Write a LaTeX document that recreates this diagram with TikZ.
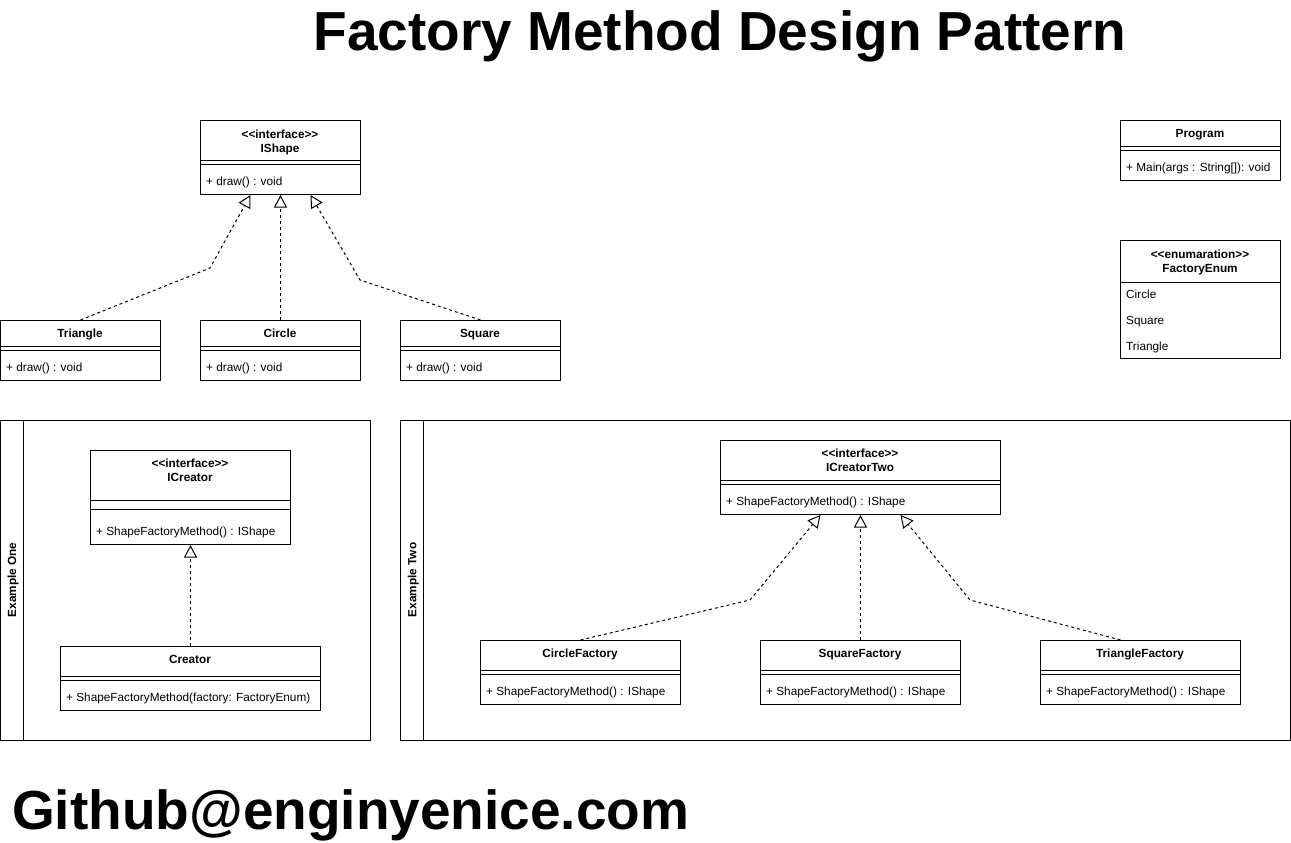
\documentclass[tikz,border=0pt]{standalone}
\usepackage{fontspec}
\setmainfont{Liberation Sans}
\usetikzlibrary{arrows.meta}
\begin{document}
\begin{tikzpicture}[x=1pt,y=-1pt,
  cls/.style={draw,line width=1pt,anchor=north west,inner sep=0pt,fill=white},
  frame/.style={draw,line width=1pt,anchor=north west,inner sep=0pt},
  sep/.style={line width=1pt},
  btxt/.style={inner sep=0pt,text height=8.5pt,text depth=0pt,font=\bfseries\fontsize{11.8}{13}\selectfont},
  mtxt/.style={inner sep=0pt,text height=8.5pt,text depth=0pt,anchor=west,font=\fontsize{11.8}{13}\selectfont},
  lane/.style={inner sep=0pt,text height=8.5pt,text depth=0pt,rotate=90,font=\bfseries\fontsize{11.8}{13}\selectfont},
  big/.style={inner sep=0pt,text height=40pt,text depth=0pt,font=\bfseries\fontsize{55}{60}\selectfont},
  real/.style={line width=1pt,dash pattern=on 3pt off 3pt,-{Triangle[open,length=12.5pt,width=13pt]}}]
\useasboundingbox (0,0) rectangle (1291,843);
\fill[white] (0,0) rectangle (1291,843);
% title
\node[big] (title) at (720,31) {Factory Method Design Pattern};
\node[big,anchor=west] (github) at (12,809) {Github@enginyenice.com};
% IShape
\node[cls,minimum width=160pt,minimum height=74pt] (ishape) at (200,120) {};
\draw[sep] (200,160) -- (360,160);
\draw[sep] (200,164) -- (360,164);
\node[btxt] (ishape-st) at (280,134) {<{}<interface>{}>};
\node[btxt] (ishape-n) at (280,148) {IShape};
\node[mtxt] (ishape-m) at (206,181) {+ draw() : void};
% Triangle, Circle, Square
\node[cls,minimum width=160pt,minimum height=60pt] (tri) at (0,320) {};
\node[cls,minimum width=160pt,minimum height=60pt] (cir) at (200,320) {};
\node[cls,minimum width=160pt,minimum height=60pt] (squ) at (400,320) {};
\foreach \xx in {0,200,400} {
  \draw[sep] (\xx,346) -- ({\xx+160},346);
  \draw[sep] (\xx,350) -- ({\xx+160},350);
}
\node[btxt] (tri-n) at (80,333) {Triangle};
\node[btxt] (cir-n) at (280,333) {Circle};
\node[btxt] (squ-n) at (480,333) {Square};
\node[mtxt] (tri-m) at (6,367) {+ draw() : void};
\node[mtxt] (cir-m) at (206,367) {+ draw() : void};
\node[mtxt] (squ-m) at (406,367) {+ draw() : void};
\draw[real] (tri.north) -- (210,268) -- ([xshift=-30pt]ishape.south);
\draw[real] (cir.north) -- (ishape.south);
\draw[real] (squ.north) -- (360,280) -- ([xshift=30pt]ishape.south);
% Program
\node[cls,minimum width=160pt,minimum height=60pt] (prog) at (1120,120) {};
\draw[sep] (1120,146) -- (1280,146);
\draw[sep] (1120,150) -- (1280,150);
\node[btxt] (prog-n) at (1200,133) {Program};
\node[mtxt] (prog-m) at (1126,167) {+ Main(args : String[]): void};
% FactoryEnum
\node[cls,minimum width=160pt,minimum height=118pt] (fenum) at (1120,240) {};
\draw[sep] (1120,282) -- (1280,282);
\node[btxt] (fenum-st) at (1200,254) {<{}<enumaration>{}>};
\node[btxt] (fenum-n) at (1200,268) {FactoryEnum};
\node[mtxt] (fenum-1) at (1126,294) {Circle};
\node[mtxt] (fenum-2) at (1126,320) {Square};
\node[mtxt] (fenum-3) at (1126,346) {Triangle};
% Example One
\node[frame,minimum width=370pt,minimum height=320pt] (ex1) at (0,420) {};
\draw[sep] (23,420) -- (23,740);
\node[lane] (ex1-l) at (12,580) {Example One};
\node[cls,minimum width=200pt,minimum height=94pt] (icre) at (90,450) {};
\draw[sep] (90,500) -- (290,500);
\draw[sep] (90,509) -- (290,509);
\node[btxt] (icre-st) at (190,463) {<{}<interface>{}>};
\node[btxt] (icre-n) at (190,477) {ICreator};
\node[mtxt] (icre-m) at (96,531) {+ ShapeFactoryMethod() : IShape};
\node[cls,minimum width=260pt,minimum height=64pt] (cre) at (60,646) {};
\draw[sep] (60,676) -- (320,676);
\draw[sep] (60,680) -- (320,680);
\node[btxt] (cre-n) at (190,659) {Creator};
\node[mtxt] (cre-m) at (66,697) {+ ShapeFactoryMethod(factory: FactoryEnum)};
\draw[real] (cre.north) -- (icre.south);
% Example Two
\node[frame,minimum width=890pt,minimum height=320pt] (ex2) at (400,420) {};
\draw[sep] (423,420) -- (423,740);
\node[lane] (ex2-l) at (412,580) {Example Two};
\node[cls,minimum width=280pt,minimum height=74pt] (icre2) at (720,440) {};
\draw[sep] (720,480) -- (1000,480);
\draw[sep] (720,484) -- (1000,484);
\node[btxt] (icre2-st) at (860,453) {<{}<interface>{}>};
\node[btxt] (icre2-n) at (860,467) {ICreatorTwo};
\node[mtxt] (icre2-m) at (726,501) {+ ShapeFactoryMethod() : IShape};
\node[cls,minimum width=200pt,minimum height=64pt] (cf) at (480,640) {};
\node[cls,minimum width=200pt,minimum height=64pt] (sf) at (760,640) {};
\node[cls,minimum width=200pt,minimum height=64pt] (tf) at (1040,640) {};
\foreach \xx in {480,760,1040} {
  \draw[sep] (\xx,670) -- ({\xx+200},670);
  \draw[sep] (\xx,674) -- ({\xx+200},674);
}
\node[btxt] (cf-n) at (580,653) {CircleFactory};
\node[btxt] (sf-n) at (860,653) {SquareFactory};
\node[btxt] (tf-n) at (1140,653) {TriangleFactory};
\node[mtxt] (cf-m) at (486,691) {+ ShapeFactoryMethod() : IShape};
\node[mtxt] (sf-m) at (766,691) {+ ShapeFactoryMethod() : IShape};
\node[mtxt] (tf-m) at (1046,691) {+ ShapeFactoryMethod() : IShape};
\draw[real] (cf.north) -- (750,600) -- ([xshift=-40pt]icre2.south);
\draw[real] (sf.north) -- (icre2.south);
\draw[real] ([xshift=-20pt]tf.north) -- (970,600) -- ([xshift=40pt]icre2.south);
\end{tikzpicture}
\end{document}
